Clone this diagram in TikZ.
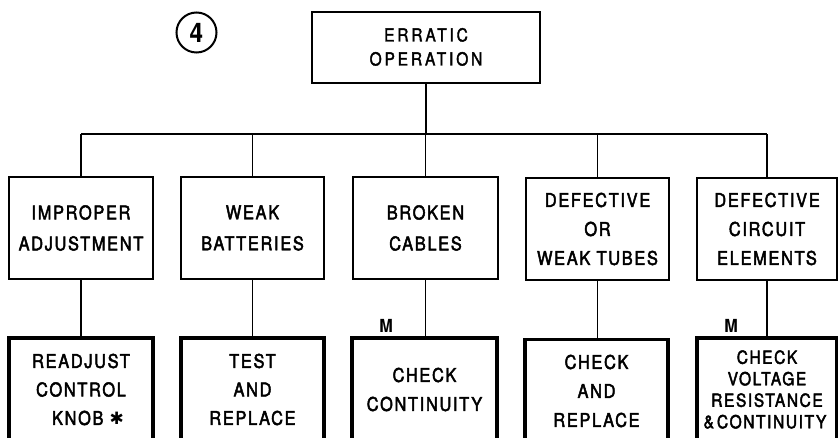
\documentclass[tikz,border=0pt]{standalone}
\usepackage{fontspec}
\newfontfamily\lettering{TeX Gyre Heros}[FakeStretch=0.86, LetterSpace=9, FakeBold=2.5]
\newfontfamily\wideletter{TeX Gyre Heros}[FakeStretch=0.86, LetterSpace=16, FakeBold=2]
\newfontfamily\boldletter{TeX Gyre Heros Bold}[FakeStretch=0.9]
\newfontfamily\symfont{DejaVu Sans}
\begin{document}
\begin{tikzpicture}[x=1pt,y=-1pt,
  topbox/.style={draw, line width=1.8pt, minimum width=228pt, minimum height=71pt, inner sep=0pt, align=center,
     font=\wideletter\fontsize{18}{24}\selectfont},
  midbox/.style={draw, line width=2.4pt, minimum height=102pt, inner sep=0pt, align=center,
     font=\lettering\fontsize{19}{31}\selectfont},
  botbox/.style={draw, line width=3.2pt, minimum height=103pt, inner sep=0pt, align=center,
     font=\lettering\fontsize{19}{28.5}\selectfont},
  link/.style={line width=1.6pt},
  mlabel/.style={font=\boldletter\fontsize{18}{18}\selectfont, inner sep=0pt}
]
\useasboundingbox (0,0) rectangle (838,438);
\clip (0,0) rectangle (838,438);
\fill[white] (0,0) rectangle (838,438);

% circled number
\node[draw, circle, line width=2pt, minimum size=40pt, inner sep=0pt,
      font=\boldletter\fontsize{27}{27}\selectfont] (num) at (196.5,32.5) {4};

% top
\node[topbox] (top) at (426,47.5) {\raisebox{1.5pt}{ERRATIC}\\\raisebox{1.5pt}{OPERATION}};

% middle row
\node[midbox, minimum width=144pt] (m1) at (81,228) {IMPROPER\\ADJUSTMENT};
\node[midbox, minimum width=143pt] (m2) at (252.5,228) {WEAK\\BATTERIES};
\node[midbox, minimum width=145pt] (m3) at (425.5,228) {BROKEN\\CABLES};
\node[midbox, minimum width=143pt, font=\lettering\fontsize{19}{29}\selectfont] (m4) at (597.5,229) {DEFECTIVE\\OR\\WEAK TUBES};
\node[midbox, minimum width=140pt, font=\lettering\fontsize{19}{29}\selectfont] (m5) at (767,229) {DEFECTIVE\\CIRCUIT\\ELEMENTS};

% bottom row
\node[botbox, minimum width=144pt] (b1) at (81,389.5) {READJUST\\CONTROL\\\hspace{14pt}KNOB {\symfont\fontsize{17}{17}\selectfont ✱}};
\node[botbox, minimum width=143pt] (b2) at (252.5,389.5) {TEST\\AND\\REPLACE};
\node[botbox, minimum width=145pt, font=\lettering\fontsize{19}{29}\selectfont] (b3) at (424.5,389.5) {CHECK\\CONTINUITY};
\node[botbox, minimum width=143pt, font=\lettering\fontsize{19}{29}\selectfont] (b4) at (596.5,391) {CHECK\\AND\\REPLACE};
\node[botbox, minimum width=140pt, font=\lettering\fontsize{18}{21.5}\selectfont] (b5) at (767,389.5) {CHECK\\VOLTAGE\\RESISTANCE\\\kern-4pt\&\,CONTINUITY};

% M labels
\node[mlabel] (ma) at (386,326) {M};
\node[mlabel] (mb) at (731,326) {M};

% connectors
\coordinate (bus) at (0,134);
\draw[link] (top.south) -- (top.south |- bus);
\draw[link] (m1.north |- bus) -- (m5.north |- bus);
\foreach \i in {1,...,5} {
  \draw[link] (m\i.north) -- (m\i.north |- bus);
  \draw[link] (m\i.south) -- (m\i.south |- b\i.north);
}
\end{tikzpicture}
\end{document}
